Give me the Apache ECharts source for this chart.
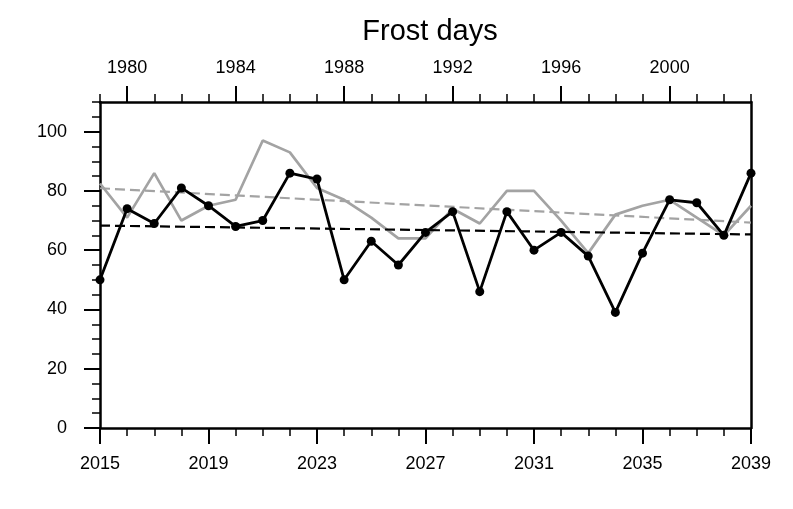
<!DOCTYPE html>
<html>
<head>
<meta charset="utf-8">
<script src="https://cdn.jsdelivr.net/npm/echarts@6/dist/echarts.min.js"></script>
<style>html,body{margin:0;padding:0;background:#fff}#c{width:793px;height:509px}</style>
</head>
<body>
<div id="c"></div>
<script>
const years = [2015,2016,2017,2018,2019,2020,2021,2022,2023,2024,2025,2026,2027,2028,2029,2030,2031,2032,2033,2034,2035,2036,2037,2038,2039];
const blackValues = [50,74,69,81,75,68,70,86,84,50,63,55,66,73,46,73,60,66,58,39,59,77,76,65,86];
const grayValues = [82.5,71,86,70,75,77,97,93,81,77,71,64,64,74,69,80,80,70,59,72,75,77,71,65,75];
const blackTrend = [[2015,68.3],[2039,65.3]];
const grayTrend = [[2015,80.9],[2039,69.3]];
const bottomMajor = [2015,2019,2023,2027,2031,2035,2039];
const bottomMinor = [2015,2016,2017,2018,2019,2020,2021,2022,2023,2024,2025,2026,2027,2028,2029,2030,2031,2032,2033,2034,2035,2036,2037,2038,2039];
const topMajor = [1980,1984,1988,1992,1996,2000];
const topMinor = [1979,1980,1981,1982,1983,1984,1985,1986,1987,1988,1989,1990,1991,1992,1993,1994,1995,1996,1997,1998,1999,2000,2001,2002,2003];
const yMajor = [0,20,40,60,80,100];
const yMinor = [0,5,10,15,20,25,30,35,40,45,50,55,60,65,70,75,80,85,90,95,100,105,110];
const title = 'Frost days';

const FONT = 'Liberation Sans';
const chart = echarts.init(document.getElementById('c'), null, {renderer:'canvas'});
const lbl = {color:'#000', fontFamily:FONT, fontSize:18};
function xa(pos, min, max, major, minor, majorLen, minorLen, margin){
  return [
    {type:'value', position:pos, min:min, max:max, gridIndex:0,
     axisLine:{show:true, onZero:false, lineStyle:{color:'#000', width:2.5}},
     axisTick:{show:true, customValues:minor, length:minorLen, lineStyle:{color:'#000', width:1.5}},
     axisLabel:{show:false}, splitLine:{show:false}},
    {type:'value', position:pos, min:min, max:max, gridIndex:0,
     axisLine:{show:false, onZero:false},
     axisTick:{show:true, customValues:major, length:majorLen, lineStyle:{color:'#000', width:2}},
     axisLabel:Object.assign({show:true, customValues:major, margin:margin, formatter:v=>String(v)}, lbl),
     splitLine:{show:false}}
  ];
}
const xAxes = xa('bottom', 2015, 2039, bottomMajor, bottomMinor, 16, 8, 27)
  .concat(xa('top', 1979, 2003, topMajor, topMinor, 16, 8, 25));
const yAxes = [
  {type:'value', position:'left', min:0, max:110,
   axisLine:{show:true, onZero:false, lineStyle:{color:'#000', width:2.5}},
   axisTick:{show:true, customValues:yMinor, length:8, lineStyle:{color:'#000', width:1.5}},
   axisLabel:{show:false}, splitLine:{show:false}},
  {type:'value', position:'left', min:0, max:110,
   axisLine:{show:false, onZero:false},
   axisTick:{show:true, customValues:yMajor, length:16, lineStyle:{color:'#000', width:2}},
   axisLabel:Object.assign({show:true, customValues:yMajor, margin:33}, lbl),
   splitLine:{show:false}},
  {type:'value', position:'right', min:0, max:110,
   axisLine:{show:true, onZero:false, lineStyle:{color:'#000', width:2.5}},
   axisTick:{show:false}, axisLabel:{show:false}, splitLine:{show:false}}
];
chart.setOption({
  animation:false,
  backgroundColor:'#fff',
  title:{text:title, left:425, top:12, textAlign:'center',
    textStyle:{fontFamily:FONT, fontSize:29, fontWeight:'normal', color:'#000'}},
  grid:{left:100, right:42, top:102, bottom:81, containLabel:false},
  xAxis:xAxes,
  yAxis:yAxes,
  series:[
    {type:'line', data:grayTrend, xAxisIndex:0, yAxisIndex:0, symbol:'none',
     lineStyle:{color:'#a3a3a3', width:2.2, type:[10,5]}, z:2},
    {type:'line', data:years.map((y,i)=>[y,grayValues[i]]), xAxisIndex:0, yAxisIndex:0, symbol:'none',
     lineStyle:{color:'#a3a3a3', width:2.7}, z:3},
    {type:'line', data:blackTrend, xAxisIndex:0, yAxisIndex:0, symbol:'none',
     lineStyle:{color:'#000', width:2.2, type:[10,5]}, z:4},
    {type:'line', data:years.map((y,i)=>[y,blackValues[i]]), xAxisIndex:0, yAxisIndex:0,
     symbol:'circle', symbolSize:9, itemStyle:{color:'#000'},
     lineStyle:{color:'#000', width:2.8}, z:5}
  ]
});
</script>
</body>
</html>
